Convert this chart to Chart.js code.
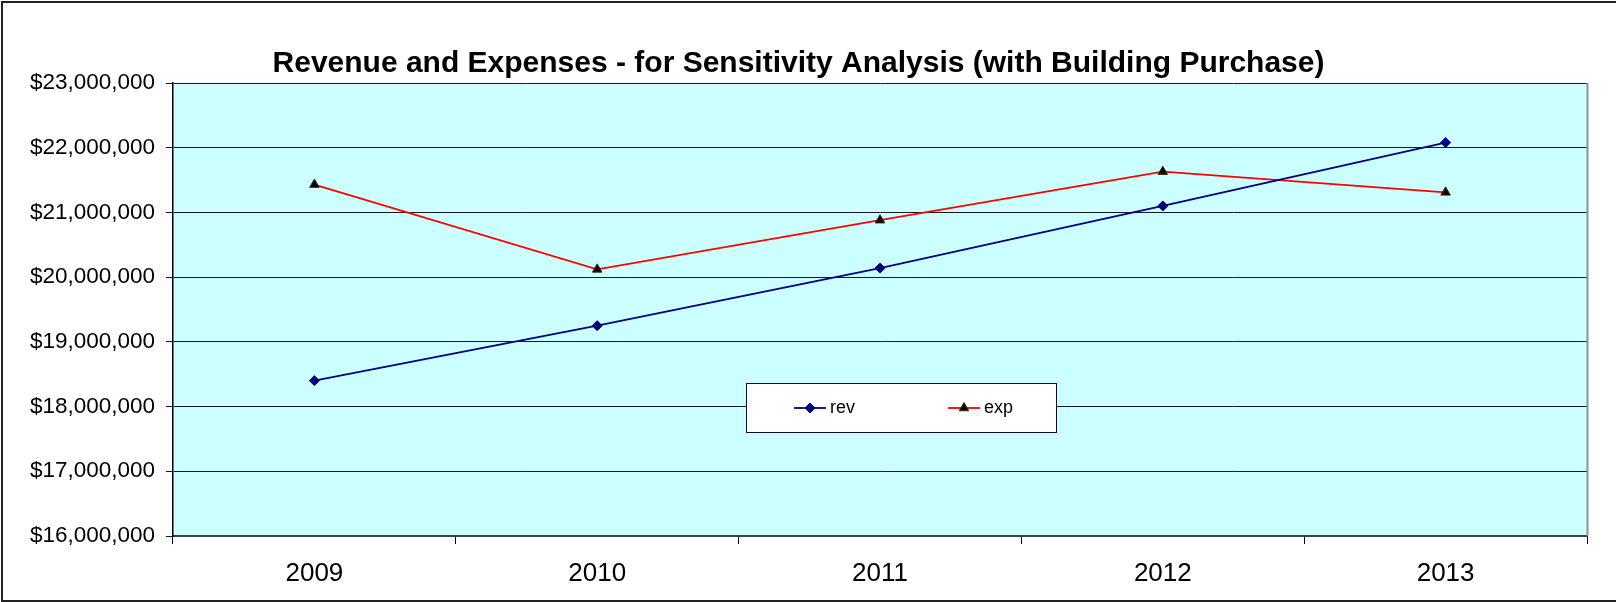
<!DOCTYPE html>
<html>
<head>
<meta charset="utf-8">
<style>
  html, body { margin: 0; padding: 0; background: #fff; }
  #wrap { width: 1616px; height: 602px; position: relative; }
</style>
<script src="https://cdn.jsdelivr.net/npm/chart.js@4.4.1/dist/chart.umd.min.js"></script>
</head>
<body>
<div id="wrap"><canvas id="chart" width="1616" height="602"></canvas></div>
<script>
const years = ['2009', '2010', '2011', '2012', '2013'];
const revValues = [18400000, 19250000, 20140000, 21100000, 22080000];
const expValues = [21430000, 20120000, 20880000, 21630000, 21310000];
const yMin = 16000000;
const yMax = 23000000;
const yStep = 1000000;
const chartTitle = 'Revenue and Expenses - for Sensitivity Analysis (with Building Purchase)';

const FONT = '"Liberation Sans", Arial, Helvetica, sans-serif';

function money(v) {
  return '$' + Math.round(v).toString().replace(/\B(?=(\d{3})+(?!\d))/g, ',');
}

// Paints the white page, the outer frame and the cyan plot background.
const backdrop = {
  id: 'backdrop',
  beforeDraw(chart) {
    const { ctx, chartArea: a, width, height } = chart;
    ctx.save();
    ctx.fillStyle = '#ffffff';
    ctx.fillRect(0, 0, width, height);
    ctx.fillStyle = '#CCFFFF';
    ctx.fillRect(a.left, a.top, a.right - a.left, a.bottom - a.top);
    ctx.strokeStyle = '#222';
    ctx.lineWidth = 2;
    ctx.strokeRect(2, 2, width + 10, height - 3);
    ctx.restore();
  },
  afterDatasetsDraw(chart) {
    const { ctx, chartArea: a } = chart;
    ctx.save();
    ctx.strokeStyle = '#909090';
    ctx.lineWidth = 2;
    ctx.beginPath();
    ctx.moveTo(a.right + 0.5, a.top);
    ctx.lineTo(a.right + 0.5, a.bottom);
    ctx.stroke();
    ctx.restore();
  }
};

// Boxed legend sitting inside the plot area.
const boxLegend = {
  id: 'boxLegend',
  afterDraw(chart) {
    const { ctx } = chart;
    const box = { x: 746, y: 383, w: 310, h: 49 };
    ctx.save();
    ctx.fillStyle = '#ffffff';
    ctx.fillRect(box.x, box.y, box.w, box.h);
    ctx.strokeStyle = '#111';
    ctx.lineWidth = 1;
    ctx.strokeRect(box.x + 0.5, box.y + 0.5, box.w, box.h);
    const cy = box.y + 25;
    const starts = [box.x + 48, box.x + 202];
    chart.data.datasets.forEach((ds, i) => {
      const x0 = starts[i];
      ctx.strokeStyle = ds.borderColor;
      ctx.lineWidth = ds.borderWidth;
      ctx.beginPath();
      ctx.moveTo(x0, cy);
      ctx.lineTo(x0 + 32, cy);
      ctx.stroke();
      ctx.fillStyle = ds.pointBackgroundColor;
      ctx.strokeStyle = ds.pointBorderColor;
      ctx.lineWidth = ds.pointBorderWidth;
      Chart.helpers.drawPoint(ctx, {
        pointStyle: ds.pointStyle,
        radius: ds.pointRadius,
        borderWidth: ds.pointBorderWidth
      }, x0 + 16, cy);
      ctx.fillStyle = '#000';
      ctx.font = '18px ' + FONT;
      ctx.textBaseline = 'middle';
      ctx.textAlign = 'left';
      ctx.fillText(ds.label, x0 + 36, cy);
    });
    ctx.restore();
  }
};

new Chart(document.getElementById('chart'), {
  type: 'line',
  data: {
    labels: years,
    datasets: [
      {
        label: 'rev',
        data: revValues,
        borderColor: '#000080',
        borderWidth: 1.8,
        pointStyle: 'rectRot',
        pointRadius: 5,
        pointBackgroundColor: '#000080',
        pointBorderColor: '#000080',
        pointBorderWidth: 1,
        tension: 0
      },
      {
        label: 'exp',
        data: expValues,
        borderColor: '#FF0000',
        borderWidth: 1.8,
        pointStyle: 'triangle',
        pointRadius: 5.5,
        pointBackgroundColor: '#000000',
        pointBorderColor: '#333300',
        pointBorderWidth: 1,
        tension: 0
      }
    ]
  },
  options: {
    responsive: false,
    animation: false,
    devicePixelRatio: 1,
    layout: { padding: { left: 10, right: 29, top: 20, bottom: 0 } },
    plugins: {
      legend: { display: false },
      tooltip: { enabled: false },
      title: {
        display: true,
        text: chartTitle,
        color: '#000',
        font: { family: FONT, size: 30, weight: 'bold', lineHeight: 1.2 },
        padding: { top: 26, bottom: 1 }
      }
    },
    scales: {
      x: {
        type: 'category',
        offset: true,
        grid: {
          offset: true,
          drawOnChartArea: false,
          drawTicks: true,
          tickLength: 8,
          color: '#000',
          lineWidth: 1
        },
        border: { display: true, color: '#404040', width: 2 },
        ticks: {
          color: '#000',
          padding: 14,
          font: { family: FONT, size: 26 },
          maxRotation: 0
        },
        afterFit(scale) { scale.height = 66; }
      },
      y: {
        min: yMin,
        max: yMax,
        grid: {
          color: '#1a1a1a',
          lineWidth: 1,
          tickLength: 7,
          drawTicks: true
        },
        border: { display: true, color: '#000', width: 1.5 },
        ticks: {
          stepSize: yStep,
          color: '#000',
          padding: 11,
          font: { family: FONT, size: 22.5 },
          callback: (v) => money(v)
        },
        afterFit(scale) { scale.width = 163; }
      }
    }
  },
  plugins: [backdrop, boxLegend]
});
</script>
</body>
</html>
